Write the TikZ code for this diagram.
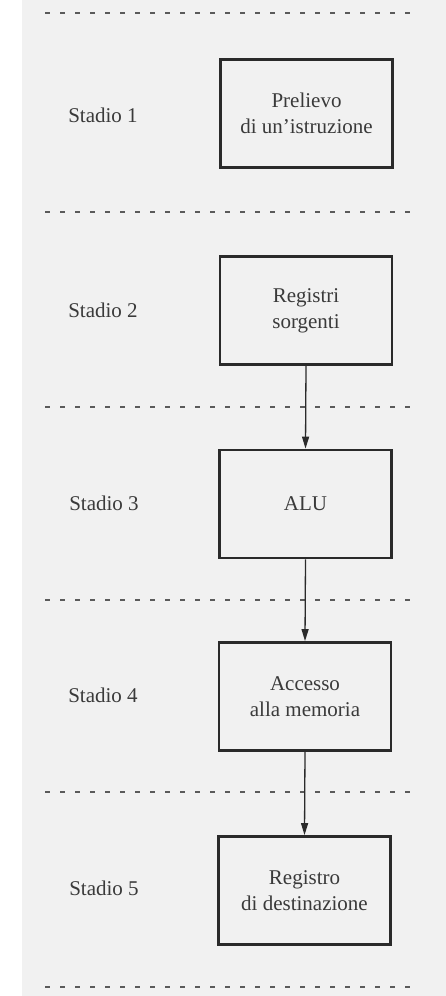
\documentclass[tikz,border=0pt]{standalone}
\usepackage{fontspec}
\setmainfont{Liberation Serif}
\usetikzlibrary{arrows.meta}
\definecolor{bg}{HTML}{F1F1F1}
\definecolor{ink}{HTML}{3A3A3A}
\definecolor{boxline}{HTML}{2A2A2A}
\definecolor{dashc}{HTML}{5A5A5A}
\tikzset{
  stagebox/.style={draw=boxline, line width=2.8pt, minimum width=172pt, minimum height=108pt,
    align=center, text=ink, font=\fontsize{21}{26}\selectfont, inner sep=0pt},
  stagelabel/.style={text=ink, font=\fontsize{21}{26}\selectfont, inner sep=0pt},
  sep/.style={draw=dashc, line width=1.8pt, dash pattern=on 5pt off 10pt},
  flow/.style={draw=boxline, line width=1.3pt, -{Triangle[length=12pt,width=7pt]}}
}
\begin{document}
\begin{tikzpicture}[x=1pt,y=-1pt]
\useasboundingbox (0,0) rectangle (446,996);
\fill[white] (0,0) rectangle (446,996);
\fill[bg] (22,0) rectangle (446,996);
% separators
\foreach \yy/\nm in {13/s0,212/s1,407/s2,600/s3,792/s4,987/s5}{
  \coordinate (\nm a) at (45,\yy);
  \coordinate (\nm b) at (415,\yy);
  \draw[sep] (\nm a) -- (\nm b);
}
% boxes
\node[stagebox] (b1) at (306.5,113.5) {Prelievo\\di un'istruzione};
\node[stagebox] (b2) at (306,310.5) {Registri\\sorgenti};
\node[stagebox] (b3) at (305.5,504) {ALU};
\node[stagebox] (b4) at (305,696.5) {Accesso\\alla memoria};
\node[stagebox] (b5) at (304.5,890.5) {Registro\\di destinazione};
% labels
\node[stagelabel] (l1) at (103,115) {Stadio 1};
\node[stagelabel] (l2) at (103,310) {Stadio 2};
\node[stagelabel] (l3) at (104,503) {Stadio 3};
\node[stagelabel] (l4) at (103,695) {Stadio 4};
\node[stagelabel] (l5) at (104,888) {Stadio 5};
% arrows
\draw[flow] (b2.south) -- (b3.north);
\draw[flow] (b3.south) -- (b4.north);
\draw[flow] (b4.south) -- (b5.north);
\end{tikzpicture}
\end{document}
